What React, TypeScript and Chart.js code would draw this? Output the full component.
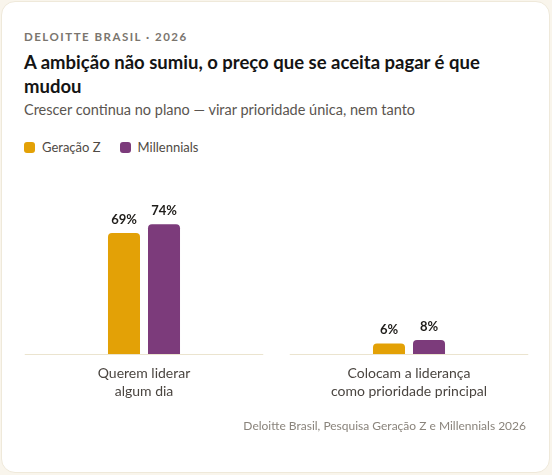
import React, { useEffect, useRef } from "react";
import { Chart, registerables } from "chart.js";

Chart.register(...registerables);

const categories: string[][] = [
  ["Querem liderar", "algum dia"],
  ["Colocam a liderança", "como prioridade principal"],
];
const seriesNames = ["Geração Z", "Millennials"];
const genZ = [69, 6];
const millennials = [74, 8];
const seriesColors = ["#E3A106", "#7C3B7B"];

const FONT = "Lato, 'Noto Sans', sans-serif";

const valueLabels = {
  id: "valueLabels",
  afterDatasetsDraw(chart: any) {
    const ctx = chart.ctx;
    ctx.save();
    ctx.font = `bold 13px ${FONT}`;
    ctx.fillStyle = "#1f1d1a";
    ctx.textAlign = "center";
    ctx.textBaseline = "bottom";
    chart.data.datasets.forEach((ds: any, di: number) => {
      const meta = chart.getDatasetMeta(di);
      meta.data.forEach((bar: any, i: number) => {
        ctx.fillText(`${ds.data[i]}%`, bar.x, bar.y - 7);
      });
    });
    ctx.restore();
  },
};

const baselines = {
  id: "baselines",
  beforeDatasetsDraw(chart: any) {
    const ctx = chart.ctx;
    const x = chart.scales.x;
    const y = chart.scales.y;
    const y0 = Math.round(y.getPixelForValue(0)) + 0.5;
    const w = x.width / x.ticks.length;
    ctx.save();
    ctx.strokeStyle = "#ebe4cf";
    ctx.lineWidth = 1;
    x.ticks.forEach((_t: any, i: number) => {
      const cx = x.getPixelForValue(i);
      ctx.beginPath();
      ctx.moveTo(cx - w * 0.45, y0);
      ctx.lineTo(cx + w * 0.45, y0);
      ctx.stroke();
    });
    ctx.restore();
  },
};

export default function App() {
  const ref = useRef<HTMLCanvasElement | null>(null);

  useEffect(() => {
    document.body.style.margin = "0";
    if (!ref.current) return;
    const chart = new Chart(ref.current, {
      type: "bar",
      data: {
        labels: categories,
        datasets: [
          {
            label: seriesNames[0],
            data: genZ,
            backgroundColor: seriesColors[0],
            borderRadius: 4,
            borderSkipped: "bottom",
            categoryPercentage: 0.302,
            barPercentage: 0.8,
          },
          {
            label: seriesNames[1],
            data: millennials,
            backgroundColor: seriesColors[1],
            borderRadius: 4,
            borderSkipped: "bottom",
            categoryPercentage: 0.302,
            barPercentage: 0.8,
          },
        ],
      },
      options: {
        animation: false,
        responsive: false,
        maintainAspectRatio: false,
        layout: { padding: { left: 11.5, right: 10.5, top: 178.8, bottom: 65 } },
        plugins: { legend: { display: false }, tooltip: { enabled: false } },
        scales: {
          x: {
            grid: { display: false, drawTicks: false },
            border: { display: false },
            ticks: {
              padding: 10,
              color: "#4a4540",
              font: { family: FONT, size: 14, lineHeight: "18px" as any },
            },
          },
          y: {
            display: false,
            min: 0,
            max: 100,
          },
        },
      },
      plugins: [baselines, valueLabels],
    });
    return () => chart.destroy();
  }, []);

  const abs = (s: React.CSSProperties): React.CSSProperties => ({ position: "absolute", ...s });

  return (
    <div style={{ position: "relative", width: 552, height: 475, background: "#f9f5ec", fontFamily: FONT, overflow: "hidden" }}>
      <div
        style={abs({
          left: 1,
          top: 1,
          width: 549,
          height: 472,
          boxSizing: "border-box",
          background: "#ffffff",
          border: "1px solid #efe9da",
          borderRadius: 14,
        })}
      />
      <div style={abs({ left: 24, top: 30, fontSize: 11.5, lineHeight: "14px", fontWeight: 700, letterSpacing: 1.5, color: "#7a756e" })}>
        DELOITTE BRASIL · 2026
      </div>
      <div style={abs({ left: 24, top: 50, width: 490, fontSize: 18.5, lineHeight: "24px", fontWeight: 700, color: "#141414" })}>
        A ambição não sumiu, o preço que se aceita pagar é que mudou
      </div>
      <div style={abs({ left: 24, top: 100, fontSize: 14.5, lineHeight: "20px", color: "#5a5550" })}>
        Crescer continua no plano — virar prioridade única, nem tanto
      </div>
      <div style={abs({ left: 24, top: 138, display: "flex", alignItems: "center", fontSize: 13, lineHeight: "18px", color: "#4f4a44" })}>
        {seriesNames.map((n, i) => (
          <div key={n} style={{ display: "flex", alignItems: "center", marginRight: 19 }}>
            <span style={{ width: 11, height: 11, borderRadius: 3, background: seriesColors[i], marginRight: 7, display: "inline-block" }} />
            <span>{n}</span>
          </div>
        ))}
      </div>
      <canvas ref={ref} width={552} height={475} style={abs({ left: 0, top: 0, width: 552, height: 475 })} />
      <div style={abs({ right: 26, top: 418, fontSize: 12, lineHeight: "16px", color: "#8a847c", textAlign: "right" })}>
        Deloitte Brasil, Pesquisa Geração Z e Millennials 2026
      </div>
    </div>
  );
}
